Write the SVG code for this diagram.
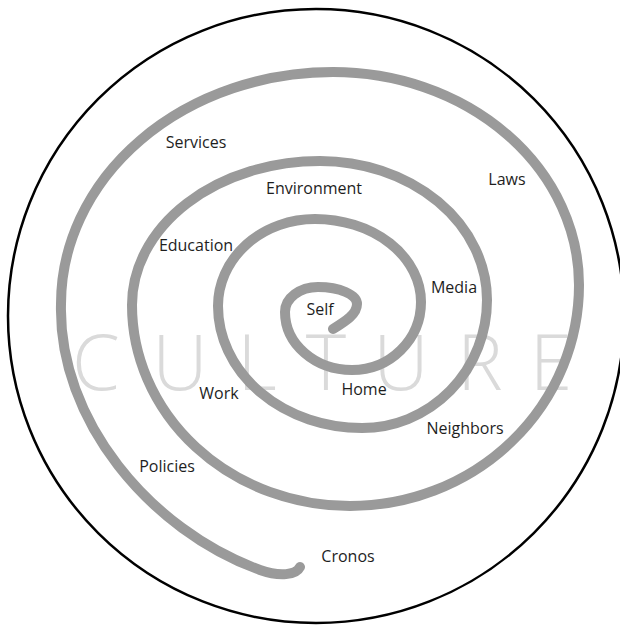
<svg xmlns="http://www.w3.org/2000/svg" width="620" height="628" viewBox="0 0 620 628">
<style>
.lbl{font-family:"Open Sans","Noto Sans","Liberation Sans",sans-serif;font-size:16px;fill:#1e1e1e;text-anchor:middle}
.bg{font-family:"Open Sans","Lato","Liberation Sans",sans-serif;font-weight:300;font-size:77px;fill:#dadada;text-anchor:middle}
.spiral{fill:none;stroke:#9a9a9a;stroke-width:10;stroke-linecap:round;stroke-linejoin:round}
</style>
<rect x="0" y="0" width="620" height="628" fill="#ffffff"/>
<g id="boundary">
<ellipse cx="316" cy="316" rx="308" ry="307" fill="none" stroke="#000" stroke-width="2.5"/>
</g>
<g id="culture">
<text class="bg" x="96 180 257 326 401 480 551" y="390">CULTURE</text>
</g>
<g id="connectors">
<path class="spiral" d="M 333 329 C 346 321, 357 314, 357 304 A 39 17 0 0 0 318 287 A 33 25 0 0 0 285 312 A 67 58 0 0 0 352 370 A 69 68 0 0 0 421 302 A 106 83 0 0 0 315 219 A 97 87 0 0 0 218 306 A 144 122 0 0 0 362 428 A 125 128 0 0 0 487 300 A 167 139 0 0 0 320 161 A 188 144 0 0 0 132 305 A 218 201 0 0 0 350 506 A 229 221 0 0 0 579 285 A 246 213 0 0 0 333 72 A 272 232 0 0 0 61 304 C 58 420, 150 530, 260 570 C 280 577, 296 575, 300 567"/>
</g>
<g id="self"><text class="lbl" x="320" y="315">Self</text></g>
<g id="media"><text class="lbl" x="454" y="293">Media</text></g>
<g id="home"><text class="lbl" x="364" y="395">Home</text></g>
<g id="work"><text class="lbl" x="219" y="399">Work</text></g>
<g id="education"><text class="lbl" x="196" y="251">Education</text></g>
<g id="environment"><text class="lbl" x="314" y="194">Environment</text></g>
<g id="neighbors"><text class="lbl" x="465" y="434">Neighbors</text></g>
<g id="policies"><text class="lbl" x="167" y="472">Policies</text></g>
<g id="services"><text class="lbl" x="196" y="148">Services</text></g>
<g id="laws"><text class="lbl" x="507" y="185">Laws</text></g>
<g id="cronos"><text class="lbl" x="348" y="562">Cronos</text></g>
</svg>
